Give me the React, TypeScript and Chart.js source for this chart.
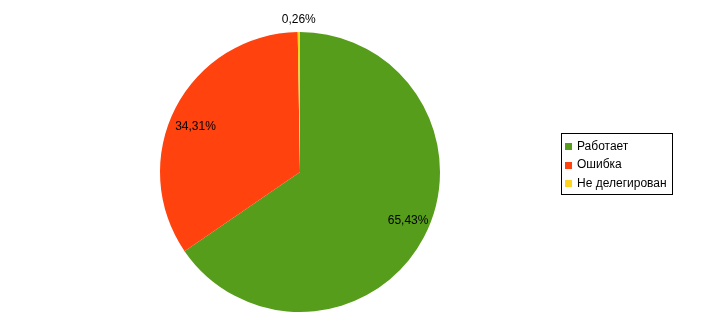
import React, { useEffect, useRef } from "react";
import { Chart, registerables } from "chart.js";

Chart.register(...registerables);

const categories = ["Работает", "Ошибка", "Не делегирован"];
const values = [65.43, 34.31, 0.26];
const valueLabels = ["65,43%", "34,31%", "0,26%"];
const colors = ["#579d1c", "#ff420e", "#ffd320"];

const FONT = "12px 'Liberation Sans', Arial, sans-serif";
const labelNudge = [
  [4, -6],
  [0, 9],
  [0, 2],
];

const labelPlugin = {
  id: "sliceLabels",
  afterDatasetsDraw(chart: any) {
    const ctx = chart.ctx;
    const meta = chart.getDatasetMeta(0);
    ctx.save();
    ctx.font = FONT;
    ctx.fillStyle = "#000";
    ctx.textAlign = "center";
    ctx.textBaseline = "middle";
    const total = values.reduce((a, b) => a + b, 0);
    meta.data.forEach((arc: any, i: number) => {
      const { x, y, startAngle, endAngle, outerRadius } = arc.getProps(
        ["x", "y", "startAngle", "endAngle", "outerRadius"],
        true
      );
      const mid = (startAngle + endAngle) / 2;
      const frac = values[i] / total;
      const d = frac < 0.05 ? outerRadius + 14 : outerRadius * 0.84;
      ctx.fillText(
        valueLabels[i],
        x + Math.cos(mid) * d + labelNudge[i][0],
        y + Math.sin(mid) * d + labelNudge[i][1]
      );
    });
    ctx.restore();
  },
};

const legendPlugin = {
  id: "boxLegend",
  afterDraw(chart: any) {
    const ctx = chart.ctx;
    ctx.save();
    const bx = 561.5, by = 133.5, bw = 111, bh = 61;
    ctx.fillStyle = "#fff";
    ctx.fillRect(bx, by, bw, bh);
    ctx.strokeStyle = "#000";
    ctx.lineWidth = 1;
    ctx.strokeRect(bx, by, bw, bh);
    ctx.font = FONT;
    ctx.textAlign = "left";
    ctx.textBaseline = "middle";
    categories.forEach((c, i) => {
      const cy = 146 + i * 18.5;
      ctx.fillStyle = colors[i];
      ctx.fillRect(565, Math.round(cy - 3), 7, 7);
      ctx.fillStyle = "#000";
      ctx.fillText(c, 577, cy + 0.5);
    });
    ctx.restore();
  },
};

export default function App() {
  const ref = useRef<HTMLCanvasElement>(null);
  useEffect(() => {
    document.body.style.margin = "0";
    const chart = new Chart(ref.current!, {
      type: "pie",
      data: {
        labels: categories,
        datasets: [
          {
            data: values,
            backgroundColor: colors,
            borderWidth: 0,
          },
        ],
      },
      options: {
        animation: false,
        responsive: false,
        maintainAspectRatio: false,
        layout: { padding: { left: 160, right: 278, top: 32, bottom: 13 } },
        plugins: {
          legend: { display: false },
          tooltip: { enabled: false },
        },
      },
      plugins: [labelPlugin, legendPlugin],
    });
    return () => chart.destroy();
  }, []);
  return (
    <div style={{ width: 718, height: 325, background: "#fff" }}>
      <canvas ref={ref} width={718} height={325} style={{ display: "block" }} />
    </div>
  );
}
